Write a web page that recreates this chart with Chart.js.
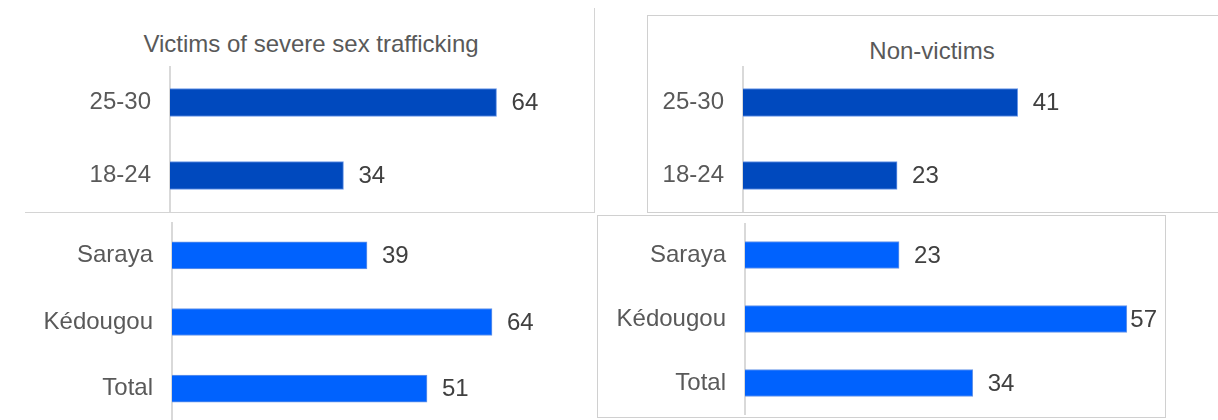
<!DOCTYPE html>
<html>
<head>
<meta charset="utf-8">
<script src="https://cdn.jsdelivr.net/npm/chart.js@4.4.1/dist/chart.umd.min.js"></script>
<style>
  html, body { margin: 0; padding: 0; background: #fff; }
  body { width: 1218px; height: 420px; position: relative; overflow: hidden; font-family: 'Liberation Sans', Arial, sans-serif; }
  canvas, .line, .box, .titre { position: absolute; }
  .line { background: #d4d4d4; }
  .box { border: 1px solid #d0d0d0; box-sizing: border-box; }
  .titre { font-size: 24px; line-height: 24px; color: #595959; white-space: nowrap; transform: translateX(-50%); }
</style>
</head>
<body>
  <!-- cadres et séparateurs -->
  <div class="line" style="left:594px; top:8px; width:1px; height:204px;"></div>
  <div class="line" style="left:25px; top:212px; width:570px; height:1px;"></div>
  <div class="box" style="left:647px; top:15px; width:590px; height:198px;"></div>
  <div class="box" style="left:597px; top:215px; width:569px; height:203px;"></div>

  <div class="titre" style="left:311px; top:32px;">Victims of severe sex trafficking</div>
  <div class="titre" style="left:932px; top:39px;">Non-victims</div>

  <canvas id="g-victimes-age" width="595" height="146" style="left:0; top:66px;"></canvas>
  <canvas id="g-victimes-zone" width="595" height="200" style="left:0; top:222px;"></canvas>
  <canvas id="g-nonvict-age" width="571" height="146" style="left:647px; top:66px;"></canvas>
  <canvas id="g-nonvict-zone" width="568" height="192" style="left:597px; top:223px;"></canvas>

<script>
// catégories
const agesLabels = ['25-30', '18-24'];
const zonesLabels = ['Saraya', 'Kédougou', 'Total'];

// valeurs (%)
const victimesAge = [64, 34];
const victimesZone = [39, 64, 51];
const nonVictimesAge = [41, 23];
const nonVictimesZone = [23, 57, 34];

const bleuFonce = '#0049be';
const bleuClair = '#0062fe';

// étiquettes de valeur à droite des barres
const etiquettesValeurs = {
    id: 'etiquettesValeurs',
    afterDatasetsDraw(chart) {
        const ctx = chart.ctx;
        const meta = chart.getDatasetMeta(0);
        const valeurs = chart.data.datasets[0].data;
        ctx.save();
        ctx.font = '24px "Liberation Sans", Arial, sans-serif';
        ctx.fillStyle = '#404040';
        ctx.textBaseline = 'middle';
        ctx.textAlign = 'left';
        meta.data.forEach((bar, i) => {
            const txt = String(valeurs[i]);
            const w = ctx.measureText(txt).width;
            const x = Math.min(bar.x + 15, chart.width - 8 - w);
            ctx.fillText(txt, x, bar.y + 1);
        });
        ctx.restore();
    }
};

function creerGraphique(id, labels, data, couleur, largeurAxe, maxX, epaisseur) {
    const ctx = document.getElementById(id).getContext('2d');
    return new Chart(ctx, {
        type: 'bar',
        data: {
            labels: labels,
            datasets: [{
                data: data,
                backgroundColor: couleur,
                borderColor: 'rgba(90,140,230,0.9)',
                borderWidth: 1,
                borderSkipped: 'left',
                barThickness: epaisseur
            }]
        },
        options: {
            indexAxis: 'y',
            responsive: false,
            animation: false,
            layout: { padding: 0 },
            plugins: {
                legend: { display: false },
                tooltip: { enabled: false }
            },
            scales: {
                x: { display: false, min: 0, max: maxX },
                y: {
                    grid: { display: false, drawTicks: false, tickLength: 0 },
                    border: { display: true, color: '#d9d9d9', width: 2 },
                    ticks: {
                        padding: 19,
                        color: '#595959',
                        font: { family: "'Liberation Sans', Arial, sans-serif", size: 24 }
                    },
                    afterFit: (scale) => {
                        // largeur fixe de l'axe, pas de marge haut/bas pour les libellés
                        scale.width = largeurAxe;
                        scale.paddingTop = 0;
                        scale.paddingBottom = 0;
                    }
                }
            }
        },
        plugins: [etiquettesValeurs]
    });
}

creerGraphique('g-victimes-age', agesLabels, victimesAge, bleuFonce, 170, 83.3, 28);
creerGraphique('g-victimes-zone', zonesLabels, victimesZone, bleuClair, 172, 84.6, 27);
creerGraphique('g-nonvict-age', agesLabels, nonVictimesAge, bleuFonce, 96, 70.9, 28);
creerGraphique('g-nonvict-zone', zonesLabels, nonVictimesZone, bleuClair, 148, 62.7, 27);
</script>
</body>
</html>
